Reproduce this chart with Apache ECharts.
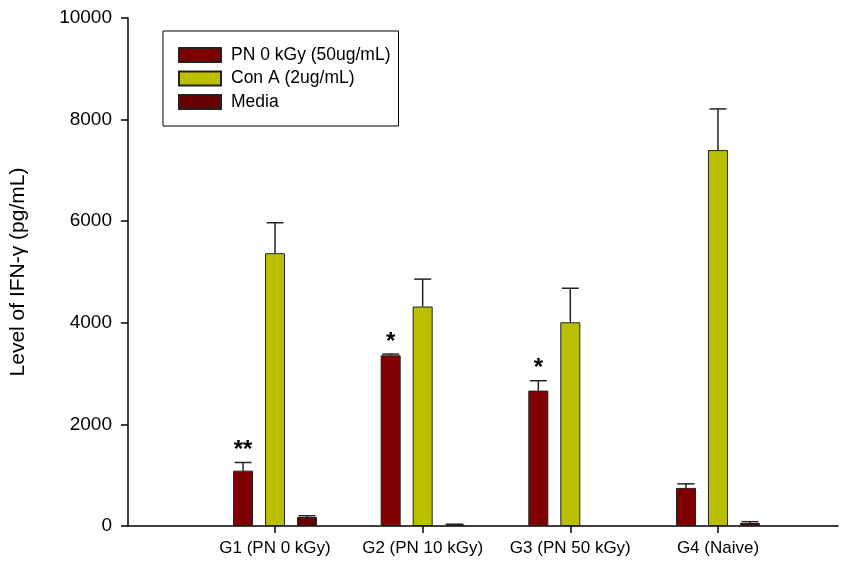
<!DOCTYPE html>
<html>
<head>
<meta charset="utf-8">
<script src="https://cdn.jsdelivr.net/npm/echarts@6/dist/echarts.min.js"></script>
<style>
html,body{margin:0;padding:0;background:#fff;}
#chart{width:856px;height:565px;}
</style>
</head>
<body>
<div id="chart"></div>
<script>
// ---- data ----
var categories = ['G1 (PN 0 kGy)', 'G2 (PN 10 kGy)', 'G3 (PN 50 kGy)', 'G4 (Naive)'];
var seriesNames = ['PN 0 kGy (50ug/mL)', 'Con A (2ug/mL)', 'Media'];
var pnValues = [1090, 3360, 2665, 750];
var pnErrors = [160, 25, 195, 80];
var conAValues = [5370, 4320, 4010, 7400];
var conAErrors = [600, 540, 670, 810];
var mediaValues = [177, 30, 0, 59];
var mediaErrors = [25, 5, 0, 26];
var pnSignificance = ['**', '*', '*', ''];
var yTicks = [0, 2000, 4000, 6000, 8000, 10000];

// ---- style ----
var colors = ['#800000', '#BABF00', '#660000'];
var FONT = 'Liberation Sans, Arial, sans-serif';
var BAR_W = 20, BAR_STEP = 32;

var chart = echarts.init(document.getElementById('chart'));

function errorSeries(values, errors, seriesIdx, marks) {
  var data = values.map(function (v, i) { return [i, v, v + errors[i], marks ? marks[i] : '']; });
  var offset = (seriesIdx - 1) * BAR_STEP;
  return {
    type: 'custom',
    xAxisIndex: 1, yAxisIndex: 1,
    silent: true,
    z: 5,
    data: data,
    renderItem: function (params, api) {
      var i = api.value(0);
      var top = api.coord([i, api.value(1)]);
      var hi = api.coord([i, api.value(2)]);
      var x = top[0] + offset;
      var children = [];
      if (api.value(2) > api.value(1)) {
        children.push({ type: 'line', shape: { x1: x, y1: top[1], x2: x, y2: hi[1] },
          style: { stroke: '#222', lineWidth: 1.5 } });
        children.push({ type: 'line', shape: { x1: x - 8.5, y1: hi[1], x2: x + 8.5, y2: hi[1] },
          style: { stroke: '#222', lineWidth: 1.5 } });
      }
      var mark = data[params.dataIndex][3];
      if (mark) {
        children.push({ type: 'text', style: { text: mark, x: x, y: hi[1] - 12,
          textAlign: 'center', textVerticalAlign: 'middle',
          font: 'bold 24px ' + FONT, fill: '#000' } });
      }
      return { type: 'group', children: children };
    }
  };
}

function barSeries(name, values, color) {
  return {
    name: name, type: 'bar', xAxisIndex: 1, yAxisIndex: 1,
    data: values.map(function (v) {
      return v === 0 ? { value: v, itemStyle: { borderWidth: 0 } } : v;
    }),
    barWidth: BAR_W, barGap: ((BAR_STEP - BAR_W) / BAR_W * 100) + '%',
    itemStyle: { color: color, borderColor: '#222', borderWidth: 1 },
    z: 3
  };
}

var option = {
  animation: false,
  backgroundColor: '#fff',
  textStyle: { fontFamily: FONT },
  legend: {
    data: seriesNames,
    orient: 'vertical',
    left: 163, top: 31,
    padding: [15, 8, 15, 15],
    itemWidth: 42, itemHeight: 14, itemGap: 5.5,
    borderColor: '#000', borderWidth: 1,
    icon: 'rect',
    textStyle: { fontSize: 17.5, color: '#000', fontFamily: FONT, padding: [0, 0, 0, 5] }
  },
  grid: [
    { left: 127, right: 18, top: 18, bottom: 39 },
    { left: 201.2, right: 64.2, top: 18, bottom: 39 }
  ],
  xAxis: [
    { type: 'value', gridIndex: 0, min: 0, max: 1,
      axisLine: { show: true, lineStyle: { color: '#000', width: 1.5 } },
      axisTick: { show: false }, axisLabel: { show: false }, splitLine: { show: false } },
    { type: 'category', gridIndex: 1, data: categories,
      axisLine: { show: false },
      axisTick: { show: true, alignWithLabel: true, length: 7, lineStyle: { color: '#000', width: 1.5 } },
      axisLabel: { interval: 0, fontSize: 17, color: '#000', margin: 14, fontFamily: FONT },
      splitLine: { show: false } }
  ],
  yAxis: [
    { type: 'value', gridIndex: 0, min: yTicks[0], max: yTicks[yTicks.length - 1], interval: yTicks[1] - yTicks[0],
      name: 'Level of IFN-\u03b3 (pg/mL)', nameLocation: 'middle', nameGap: 99,
      nameTextStyle: { fontSize: 21, color: '#000', fontFamily: FONT },
      axisLine: { show: true, lineStyle: { color: '#000', width: 1.5 } },
      axisTick: { show: true, length: 7, lineStyle: { color: '#000', width: 1.5 } },
      axisLabel: { fontSize: 19, color: '#000', margin: 16, fontFamily: FONT,
        formatter: function (v) { return String(v); } },
      splitLine: { show: false } },
    { type: 'value', gridIndex: 1, min: yTicks[0], max: yTicks[yTicks.length - 1], show: false,
      splitLine: { show: false } }
  ],
  series: [
    barSeries(seriesNames[0], pnValues, colors[0]),
    barSeries(seriesNames[1], conAValues, colors[1]),
    barSeries(seriesNames[2], mediaValues, colors[2]),
    errorSeries(pnValues, pnErrors, 0, pnSignificance),
    errorSeries(conAValues, conAErrors, 1, null),
    errorSeries(mediaValues, mediaErrors, 2, null)
  ]
};
chart.setOption(option);
</script>
</body>
</html>
